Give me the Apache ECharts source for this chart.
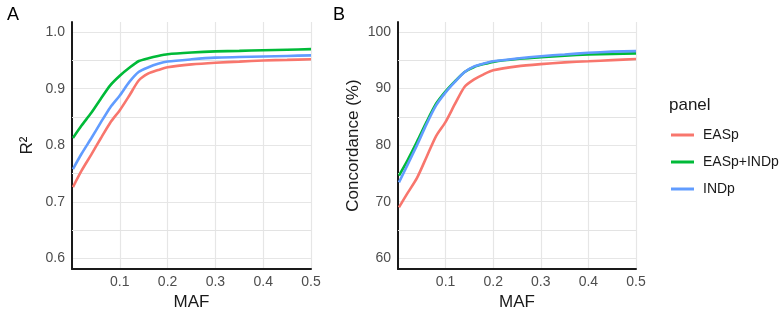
<!DOCTYPE html>
<html>
<head>
<meta charset="utf-8">
<title>R2 / Concordance by MAF</title>
<script src="https://cdn.jsdelivr.net/npm/echarts@6.0.0/dist/echarts.min.js"></script>
<style>
  html, body { margin: 0; padding: 0; background: #fff; }
  #chart { width: 782px; height: 316px; }
</style>
</head>
<body>
<div id="chart"></div>
<script>
/* -------------------------------------------  Data  ------------------------------------------- */
const panels = ['EASp', 'EASp+INDp', 'INDp'];
const maf = [0.002, 0.02, 0.04, 0.06, 0.08, 0.1, 0.12, 0.14, 0.16, 0.18, 0.2, 0.25, 0.3, 0.35, 0.4, 0.45, 0.5];

// panel A : R2
const r2EASp     = [0.726, 0.755, 0.783, 0.812, 0.840, 0.862, 0.888, 0.915, 0.927, 0.933, 0.938, 0.943, 0.946, 0.948, 0.950, 0.951, 0.952];
const r2Combined = [0.813, 0.835, 0.857, 0.882, 0.906, 0.923, 0.937, 0.949, 0.954, 0.958, 0.961, 0.964, 0.966, 0.967, 0.968, 0.969, 0.970];
const r2INDp     = [0.758, 0.785, 0.812, 0.840, 0.867, 0.888, 0.912, 0.930, 0.938, 0.944, 0.948, 0.952, 0.955, 0.956, 0.957, 0.958, 0.959];

// panel B : concordance (%)
const concEASp     = [69.0, 71.5, 74.2, 77.9, 81.6, 84.1, 87.3, 90.3, 91.6, 92.5, 93.2, 93.9, 94.3, 94.6, 94.8, 95.0, 95.2];
const concCombined = [74.6, 77.3, 80.6, 84.1, 87.3, 89.5, 91.3, 92.9, 93.8, 94.3, 94.7, 95.2, 95.5, 95.8, 96.0, 96.1, 96.2];
const concINDp     = [73.4, 76.5, 80.0, 83.7, 87.0, 89.3, 91.2, 92.9, 93.9, 94.4, 94.8, 95.3, 95.7, 96.0, 96.3, 96.5, 96.6];

// minor gridlines (ggplot style)
const minorA = [0.65, 0.75, 0.85, 0.95];
const minorB = [65, 75, 85, 95];

/* -------------------------------------------  Style  ------------------------------------------- */
const colors = ['#F8766D', '#00BA38', '#619CFF'];
const font = "'Liberation Sans', Arial, sans-serif";
const gridColor = '#e6e6e6';

function pairs(ys) {
  return maf.map((x, i) => [x, ys[i]]);
}

function xAxisOf(gridIndex) {
  return {
    type: 'value',
    gridIndex,
    min: 0,
    max: 0.5,
    interval: 0.1,
    name: 'MAF',
    nameLocation: 'middle',
    nameGap: 24,
    nameTextStyle: { fontFamily: font, fontSize: 17, color: '#1a1a1a' },
    axisLine: { show: true, onZero: false, lineStyle: { color: '#1a1a1a', width: 2 } },
    axisTick: { show: false },
    axisLabel: { showMinLabel: false, margin: 6, fontFamily: font, fontSize: 14, color: '#4d4d4d' },
    splitLine: { show: true, lineStyle: { color: gridColor, width: 1.2 } },
  };
}

function yAxisOf(gridIndex, min, max, name, nameGap, fmt) {
  return {
    type: 'value',
    gridIndex,
    min,
    max,
    splitNumber: 5,
    name,
    nameLocation: 'middle',
    nameGap,
    nameTextStyle: { fontFamily: font, fontSize: 17, color: '#1a1a1a' },
    axisLine: { show: true, onZero: false, lineStyle: { color: '#1a1a1a', width: 2 } },
    axisTick: { show: false },
    axisLabel: {
      showMinLabel: false,
      showMaxLabel: false,
      margin: 7,
      fontFamily: font,
      fontSize: 14,
      color: '#4d4d4d',
      formatter: fmt,
    },
    splitLine: { show: true, showMinLine: false, showMaxLine: false, lineStyle: { color: gridColor, width: 1.2 } },
  };
}

function lineSeries(name, idx, gridIndex, ys, minor) {
  const s = {
    name,
    type: 'line',
    xAxisIndex: gridIndex,
    yAxisIndex: gridIndex,
    data: pairs(ys),
    showSymbol: false,
    symbol: 'none',
    smooth: 0.25,
    lineStyle: { color: colors[idx], width: 2.6 },
    itemStyle: { color: colors[idx] },
    z: 3 + idx,
  };
  if (minor) {
    s.markLine = {
      silent: true,
      symbol: 'none',
      z: 1,
      animation: false,
      label: { show: false },
      emphasis: { disabled: true },
      lineStyle: { color: '#e3e3e3', width: 1.2, type: 'solid', opacity: 1 },
      data: minor.map((v) => ({ yAxis: v })),
    };
  }
  return s;
}

/* -------------------------------------------  Chart  ------------------------------------------- */
const chart = echarts.init(document.getElementById('chart'), null, { renderer: 'canvas' });

chart.setOption({
  animation: false,
  color: colors,
  title: [
    { text: 'A', left: 2, top: 1, textStyle: { fontFamily: font, fontSize: 18, fontWeight: 'normal', color: '#000' } },
    { text: 'B', left: 328, top: 1, textStyle: { fontFamily: font, fontSize: 18, fontWeight: 'normal', color: '#000' } },
    { text: 'panel', left: 664, top: 92, textStyle: { fontFamily: font, fontSize: 17, fontWeight: 'normal', color: '#1a1a1a' } },
  ],
  legend: {
    data: panels,
    orient: 'vertical',
    left: 666,
    top: 123,
    icon: 'rect',
    itemWidth: 23,
    itemHeight: 3,
    itemGap: 13,
    textStyle: { fontFamily: font, fontSize: 14, color: '#1a1a1a', padding: [0, 0, 0, 4] },
  },
  grid: [
    { left: 72, right: 471, top: 22, bottom: 42 },
    { left: 398, right: 146, top: 22, bottom: 42 },
  ],
  xAxis: [xAxisOf(0), xAxisOf(1)],
  yAxis: [
    yAxisOf(0, 0.581, 1.018, 'R²', 36, (v) => v.toFixed(1)),
    yAxisOf(1, 58.09, 101.74, 'Concordance (%)', 36),
  ],
  series: [
    lineSeries(panels[0], 0, 0, r2EASp, minorA),
    lineSeries(panels[1], 1, 0, r2Combined),
    lineSeries(panels[2], 2, 0, r2INDp),
    lineSeries(panels[0], 0, 1, concEASp, minorB),
    lineSeries(panels[1], 1, 1, concCombined),
    lineSeries(panels[2], 2, 1, concINDp),
  ],
});
</script>
</body>
</html>
